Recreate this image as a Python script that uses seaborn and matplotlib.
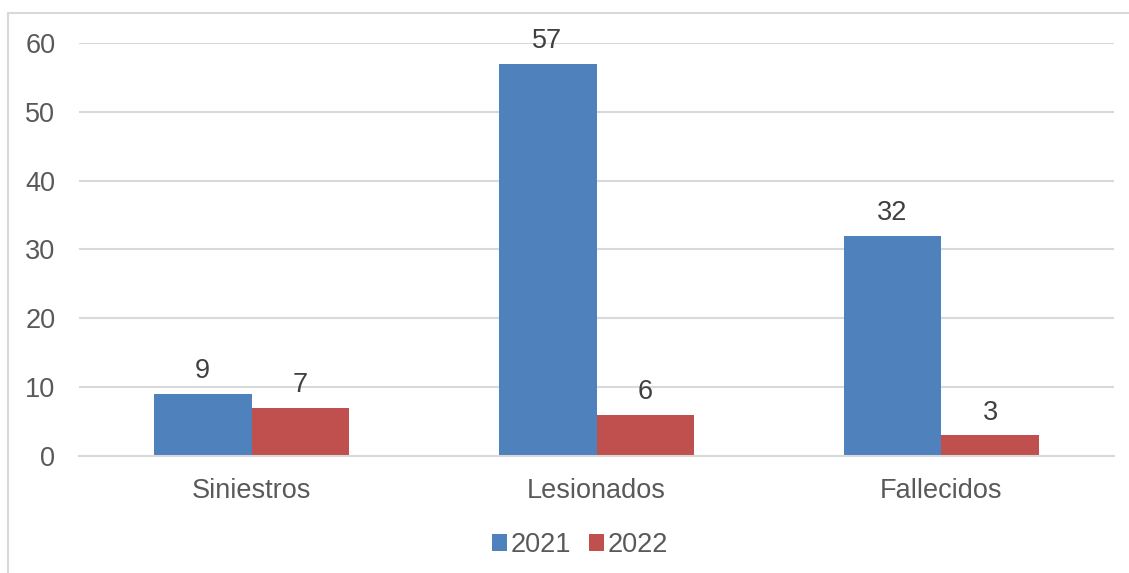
import matplotlib
matplotlib.use("Agg")
import matplotlib.pyplot as plt
import seaborn as sns
import pandas as pd
from matplotlib.patches import Rectangle

categories = ["Siniestros", "Lesionados", "Fallecidos"]
series_names = ["2021", "2022"]
values_2021 = [9, 57, 32]
values_2022 = [7, 6, 3]
yticks = [0, 10, 20, 30, 40, 50, 60]

colors = ["#4F81BD", "#C0504D"]

df = pd.DataFrame({
    "cat": categories * 2,
    "year": [series_names[0]] * 3 + [series_names[1]] * 3,
    "val": values_2021 + values_2022,
})

sns.set_style("white")
plt.rcParams['font.family'] = ['Liberation Sans', 'DejaVu Sans']

FS = 19.5

fig = plt.figure(figsize=(11.29, 5.73), dpi=100)
ax = fig.add_axes([0.070, 0.2042, 0.9167, 0.7208])

sns.barplot(data=df, x="cat", y="val", hue="year", palette=colors,
            width=0.568, dodge=True, gap=0, ax=ax, legend=False,
            saturation=1, edgecolor="none", linewidth=0)

ax.set_xlim(-0.5, 2.5)
ax.set_ylim(0, 60)
ax.set_yticks(yticks)
ax.yaxis.grid(True, color="#D9D9D9", linewidth=1.5)
ax.set_axisbelow(True)
for s in ["top", "right", "left"]:
    ax.spines[s].set_visible(False)
ax.spines["bottom"].set_color("#D9D9D9")
ax.spines["bottom"].set_linewidth(1.5)
ax.tick_params(axis="both", length=0, labelsize=FS, labelcolor="#595959")
ax.tick_params(axis="y", pad=17)
ax.tick_params(axis="x", pad=16)
ax.set_xlabel("")
ax.set_ylabel("")

for cont in ax.containers:
    ax.bar_label(cont, fmt="%d", padding=7, fontsize=FS, color="#404040")

handles = [Rectangle((0, 0), 1, 1, facecolor=c, edgecolor="none") for c in colors]
fig.legend(handles, series_names, loc="center", bbox_to_anchor=(580 / 1129, 1 - 545 / 573),
           ncol=2, frameon=False, fontsize=FS, labelcolor="#595959",
           handlelength=0.55, handleheight=0.55, handletextpad=0.15, columnspacing=0.65)

border = Rectangle((8 / 1129, -0.1), 1.2, 1 - 13 / 573 + 0.1, transform=fig.transFigure,
                   facecolor="none", edgecolor="#D9D9D9", linewidth=1.5, clip_on=False)
fig.patches.append(border)

fig.savefig("out.png", dpi=100)
